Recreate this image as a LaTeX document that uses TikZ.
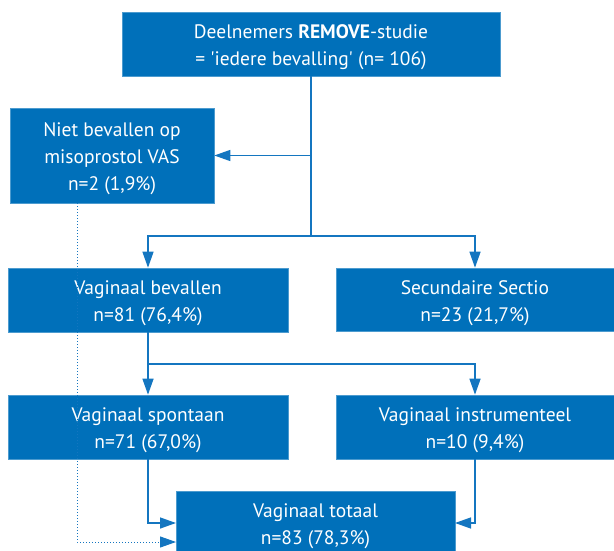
\documentclass[tikz,border=0pt]{standalone}
\usepackage{fontspec}
\setmainfont{PT Sans}
\usetikzlibrary{arrows.meta}
\definecolor{boxblue}{RGB}{0,112,186}
\definecolor{lineblue}{RGB}{20,118,192}
\newcommand{\bxstrut}{\rule{0pt}{21pt}}
\tikzset{
  box/.style={rectangle, fill=boxblue, draw=boxblue!70!white, line width=0.6pt, text=white, align=center,
    inner sep=0pt, font=\fontsize{19.5}{27}\selectfont},
  conn/.style={draw=lineblue, line width=1.4pt},
  arr/.style={conn, -{Triangle[length=16pt,width=11pt]}},
  dotconn/.style={draw=lineblue, line width=1pt, dotted, -{Triangle[length=16pt,width=11pt]}}
}
\begin{document}
\begin{tikzpicture}[x=1pt,y=-1pt]
\useasboundingbox (0,0) rectangle (614,551);
\node[box, minimum width=378pt, minimum height=64pt] (top) at (311,44)
  {\bxstrut Deelnemers \textbf{REMOVE}-studie\\= \textquotesingle iedere bevalling\textquotesingle{} (n= 106)};
\node[box, minimum width=204pt, minimum height=95pt] (niet) at (112,155.5)
  {\bxstrut Niet bevallen op\\misoprostol VAS\\n=2 (1,9\%)};
\node[box, minimum width=280pt, minimum height=64pt] (vb) at (148,300)
  {\bxstrut Vaginaal bevallen\\n=81 (76,4\%)};
\node[box, minimum width=278pt, minimum height=63pt] (sec) at (475,299.5)
  {\bxstrut Secundaire Sectio\\n=23 (21,7\%)};
\node[box, minimum width=280pt, minimum height=64pt] (vs) at (148,427)
  {\bxstrut Vaginaal spontaan\\n=71 (67,0\%)};
\node[box, minimum width=278pt, minimum height=64pt] (vi) at (475,427)
  {\bxstrut Vaginaal instrumenteel\\n=10 (9,4\%)};
\node[box, minimum width=279pt, minimum height=64pt] (vt) at (315.5,523)
  {\bxstrut Vaginaal totaal\\n=83 (78,3\%)};
\coordinate (split1) at (311,236);
\coordinate (split2) at (148,364);
\coordinate (in1) at (176,523);
\coordinate (in2) at (176,542);
\coordinate (in3) at (455,523);
\coordinate (dtop) at (77,203);
\draw[conn] (top.south) -- (split1);
\draw[arr] (top.south |- niet.east) -- (niet.east);
\draw[arr] (split1) -| (vb.north);
\draw[arr] (split1) -| (sec.north);
\draw[arr] (vb.south) -- (vs.north);
\draw[arr] (split2) -| (vi.north);
\draw[arr] (vs.south) |- (in1);
\draw[arr] (vi.south) |- (in3);
\draw[dotconn] (dtop) |- (in2);
\end{tikzpicture}
\end{document}
